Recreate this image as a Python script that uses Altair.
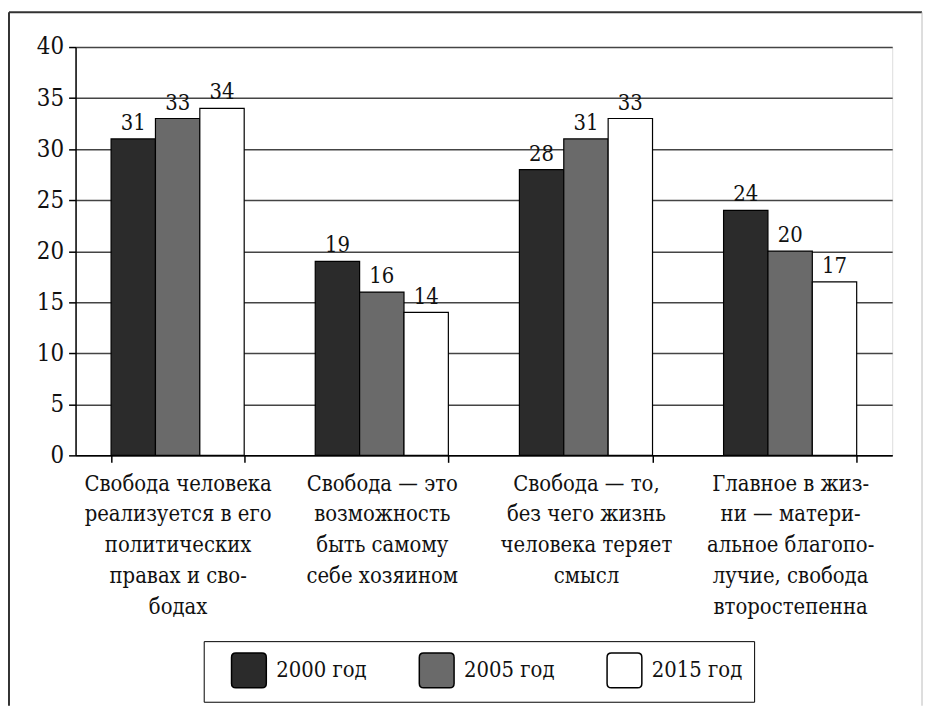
import altair as alt
import pandas as pd

categories = [
    "Свобода человека|реализуется в его|политических|правах и сво-|бодах",
    "Свобода — это|возможность|быть самому|себе хозяином",
    "Свобода — то,|без чего жизнь|человека теряет|смысл",
    "Главное в жиз-|ни — матери-|альное благопо-|лучие, свобода|второстепенна",
]
series = ["2000 год", "2005 год", "2015 год"]
v2000 = [31, 19, 28, 24]
v2005 = [33, 16, 31, 20]
v2015 = [34, 14, 33, 17]
colors = ["#2b2b2b", "#6a6a6a", "#ffffff"]

rows = []
for s, vals in zip(series, [v2000, v2005, v2015]):
    for c, v in zip(categories, vals):
        rows.append({"cat": c, "series": s, "value": v})
df = pd.DataFrame(rows)

FONT = "DejaVu Serif Condensed"

x = alt.X(
    "cat:N",
    sort=categories,
    scale=alt.Scale(paddingInner=0.348, paddingOuter=0.174),
    axis=alt.Axis(
        title=None,
        labelExpr="split(datum.label, '|')",
        labelAngle=0,
        labelFontSize=22,
        labelLineHeight=31,
        labelLimit=0,
        labelPadding=11,
        labelBaseline="top",
        tickBand="extent",
        tickSize=7,
        tickColor="black",
        tickWidth=1.5,
        domainColor="black",
        domainWidth=1.5,
        labelColor="#111",
        labelFont=FONT,
    ),
)
xoff = alt.XOffset("series:N", sort=series, scale=alt.Scale(paddingInner=0, paddingOuter=0))
y = alt.Y(
    "value:Q",
    scale=alt.Scale(domain=[0, 40], nice=False),
    axis=alt.Axis(
        values=list(range(0, 41, 5)),
        title=None,
        grid=True,
        gridColor="#444",
        gridWidth=1.5,
        labelFontSize=24,
        labelFont=FONT,
        labelColor="#111",
        labelPadding=5,
        tickSize=7,
        tickColor="black",
        tickWidth=1.5,
        domainColor="black",
        domainWidth=1.5,
    ),
)

rounded = "M -1 -0.75 Q -1 -1 -0.75 -1 L 0.75 -1 Q 1 -1 1 -0.75 L 1 0.75 Q 1 1 0.75 1 L -0.75 1 Q -1 1 -1 0.75 Z"

color = alt.Color(
    "series:N",
    sort=series,
    scale=alt.Scale(domain=series, range=colors),
    legend=alt.Legend(
        title=None,
        orient="none",
        legendX=129,
        legendY=598,
        direction="horizontal",
        strokeColor="black",
        fillColor="white",
        padding=11,
        symbolType=rounded,
        symbolSize=1225,
        symbolStrokeColor="black",
        symbolStrokeWidth=1.5,
        symbolOffset=16,
        labelFontSize=22,
        labelFont=FONT,
        labelColor="#111",
        labelOffset=9,
        columnPadding=35,
    ),
)

bars = alt.Chart(df).mark_bar(stroke="black", strokeWidth=1.2).encode(
    x=x, xOffset=xoff, y=y, color=color
)
labels = alt.Chart(df).mark_text(
    baseline="bottom", dy=-4, fontSize=22, font=FONT, color="#111"
).encode(x=x, xOffset=xoff, y=y, text="value:Q")

frame_left = alt.Chart(alt.Data(values=[{}])).mark_rule(color="#333", strokeWidth=2).encode(
    x=alt.value(-67), y=alt.value(-35), y2=alt.value(663)
)
frame_top = alt.Chart(alt.Data(values=[{}])).mark_rule(color="#333", strokeWidth=2).encode(
    x=alt.value(-67), x2=alt.value(852), y=alt.value(-35)
)
frame_right = alt.Chart(alt.Data(values=[{}])).mark_rule(color="#bbb", strokeWidth=1).encode(
    x=alt.value(852), y=alt.value(-35), y2=alt.value(663)
)

chart = alt.layer(bars, labels, frame_left, frame_top, frame_right).properties(
    width=822,
    height=411,
    autosize=alt.AutoSizeParams(type="none"),
    padding={"left": 68, "top": 37, "right": 32, "bottom": 252},
).configure_view(stroke=None).configure(background="white")

chart.save("out.html", embed_options={"renderer": "svg", "actions": False})
